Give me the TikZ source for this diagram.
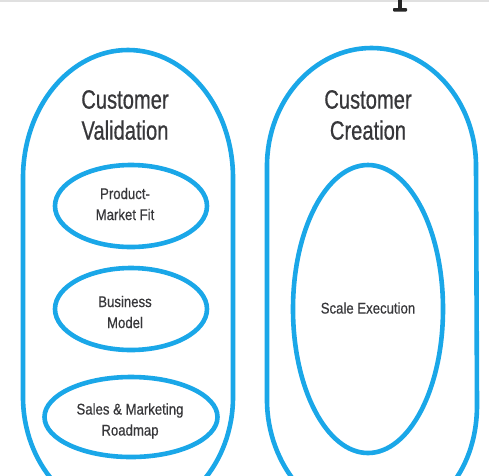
\documentclass[tikz,border=0pt]{standalone}
\usepackage{fontspec}
\setmainfont{Liberation Sans}
\newfontfamily\bigcond[FakeStretch=0.76,FakeBold=0.6]{Liberation Sans}
\newfontfamily\smallcond[FakeStretch=0.85,FakeBold=0.5]{Liberation Sans}
\usetikzlibrary{shapes.geometric}
\definecolor{cblue}{RGB}{26,167,232}
\definecolor{ctext}{RGB}{55,55,58}
\begin{document}
\begin{tikzpicture}[x=1pt,y=-1pt,
  outline/.style={draw=cblue, line width=4.6pt},
  oval/.style={ellipse, draw=cblue, line width=4.6pt, inner sep=0pt},
  bigtext/.style={text=ctext, font=\bigcond\fontsize{26.5}{31}\selectfont, align=center, inner sep=0pt},
  smalltext/.style={text=ctext, font=\smallcond\fontsize{15.5}{21}\selectfont, align=center, inner sep=0pt}]
\useasboundingbox (0,0) rectangle (489,475);
\clip (0,0) rectangle (489,475);
\fill[white] (0,0) rectangle (489,475);
\draw[black!12, line width=1.5pt] (0,0.75) -- (489,0.75);
\fill[black!85] (397.7,0) rectangle (402.3,8.5);
\fill[black!85, rounded corners=0.8pt] (393,8) rectangle (407,11.5);
% outer shapes
\draw[outline] (128,50) .. controls (186,50) and (233,107) .. (233,178) -- (233,397)
  .. controls (233,463) and (186,517) .. (128,517) .. controls (70,517) and (23,463) .. (23,397)
  -- (23,178) .. controls (23,107) and (70,50) .. (128,50) -- cycle;
\draw[outline] (371.5,48) .. controls (429,48) and (476,101) .. (476,166) -- (477,405)
  .. controls (477,475) and (432,522) .. (374,522) .. controls (314,522) and (267,465) .. (267,400)
  -- (267,166) .. controls (267,101) and (314,48) .. (371.5,48) -- cycle;
% titles
\node[bigtext] (cv) at (125,115) {Customer\\Validation};
\node[bigtext] (cc) at (368,115) {Customer\\Creation};
% inner ovals
\node[oval, minimum width=152pt, minimum height=82pt] (pmf) at (131,206) {};
\node[oval, minimum width=152pt, minimum height=82pt] (bm) at (131,309) {};
\node[oval, minimum width=173pt, minimum height=80pt] (smr) at (131,417) {};
\node[oval, minimum width=150pt, minimum height=288pt] (se) at (368,309) {};
% labels
\node[smalltext] (pmft) at (125,204) {Product-\\Market Fit};
\node[smalltext] (bmt) at (125,312) {Business\\Model};
\node[smalltext] (smrt) at (130,421) {Sales \& Marketing\\Roadmap};
\node[smalltext] (set) at (368,308) {Scale Execution};
\end{tikzpicture}
\end{document}
